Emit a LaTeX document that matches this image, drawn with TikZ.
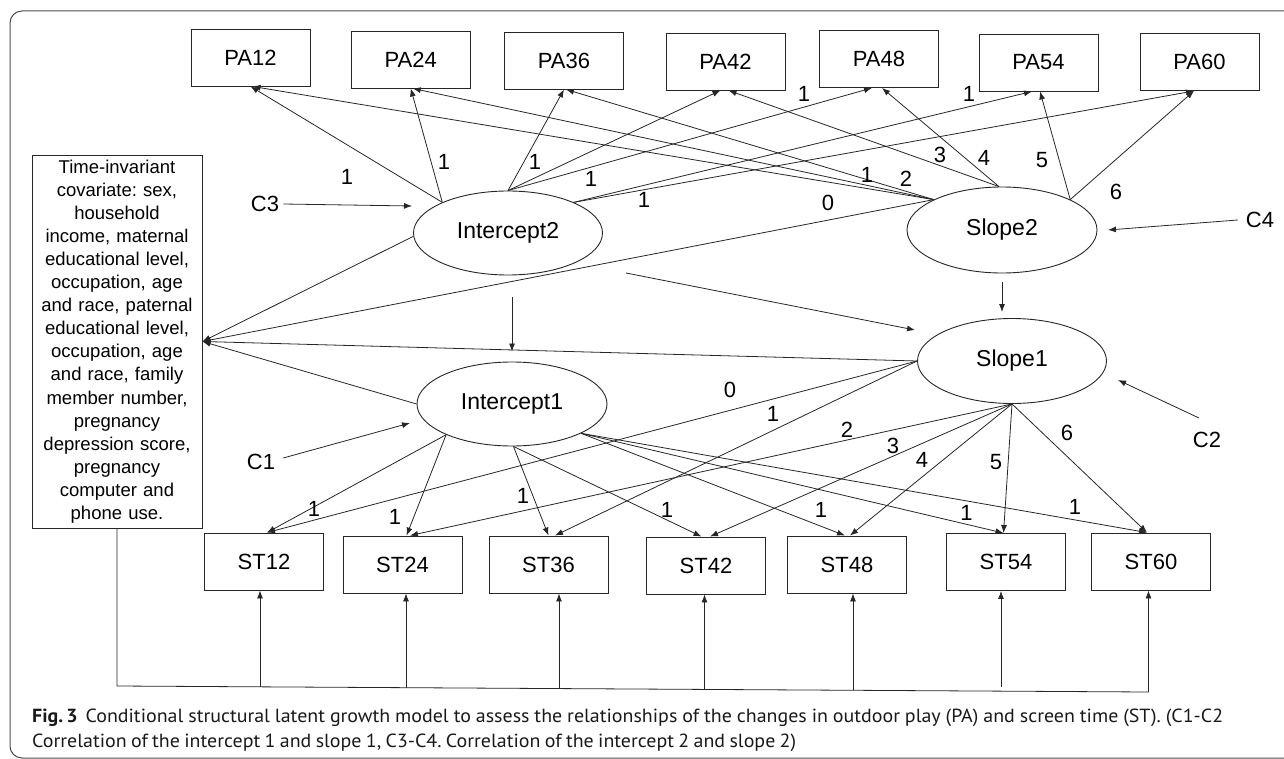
\documentclass[tikz,border=0pt]{standalone}
\usepackage{fontspec}
\setmainfont{Liberation Sans}
\newfontfamily\capfont[FakeStretch=1.05]{PT Sans}
\usetikzlibrary{arrows.meta,shapes.geometric,calc}
\frenchspacing
\begin{document}
\begin{tikzpicture}[x=1pt,y=-1pt,
  box/.style={draw=black!85, line width=0.9pt, minimum width=119pt, minimum height=57pt, inner sep=0pt, font=\fontsize{22}{26}\selectfont},
  lat/.style={draw=black!85, ellipse, line width=0.9pt, minimum width=189pt, minimum height=84pt, inner sep=0pt, font=\fontsize{23}{27}\selectfont},
  lab/.style={inner sep=0pt, font=\fontsize{22}{26}\selectfont},
  arr/.style={draw=black!85, line width=0.8pt, -{Latex[length=8pt,width=6pt]}},
  ln/.style={draw=black!85, line width=0.8pt},
  covbox/.style={draw=black!85, line width=0.9pt, minimum width=170pt, minimum height=373pt, text width=168pt, align=center, inner sep=0pt, font=\fontsize{18.5}{23.1}\selectfont},
  captext/.style={inner sep=0pt, anchor=base west, font=\capfont\fontsize{19}{23}\selectfont, text=black!90}
]
\useasboundingbox (0,0) rectangle (1284,759);
\draw[black!70, line width=1pt, rounded corners=12pt] (1300,11) -- (10,11) -- (10,758) -- (1300,758);

% PA boxes
\node[box] (pa12) at (250.5,57.5) {PA12};
\node[box] (pa24) at (410.75,59.5) {PA24};
\node[box] (pa36) at (564,60.5) {PA36};
\node[box] (pa42) at (725.5,61.5) {PA42};
\node[box] (pa48) at (879,59) {PA48};
\node[box] (pa54) at (1038.5,62.5) {PA54};
\node[box] (pa60) at (1199.5,62) {PA60};

% ST boxes
\node[box] (st12) at (264,561.5) {ST12};
\node[box] (st24) at (402.5,564.5) {ST24};
\node[box] (st36) at (548.5,564.5) {ST36};
\node[box] (st42) at (706,565.5) {ST42};
\node[box] (st48) at (847,564.5) {ST48};
\node[box] (st54) at (1006,562) {ST54};
\node[box] (st60) at (1151,561.5) {ST60};

% covariate box
\node[covbox] (cov) at (117,341.5) {Time-invariant\\covariate: sex,\\household\\income, maternal\\educational level,\\occupation, age\\and race, paternal\\educational level,\\occupation, age\\and race, family\\member number,\\pregnancy\\depression score,\\pregnancy\\computer and\\phone use.};

% latent variables
\node[lat] (i2) at (508,233) {Intercept2};
\node[lat, minimum width=190pt, minimum height=86pt] (s2) at (1002,230) {Slope2};
\node[lat, minimum width=190pt] (i1) at (512,404) {Intercept1};
\node[lat, minimum height=85pt] (s1) at (1012,361) {Slope1};

% correlation labels
\node[lab] (c3) at (265,204) {C3};
\node[lab] (c4) at (1260,220) {C4};
\node[lab] (c1) at (261,462) {C1};
\node[lab] (c2) at (1207,440) {C2};
\coordinate (c3e) at (412,206);
\coordinate (c4e) at (1108,230);
\coordinate (c1e) at (410,423);
\coordinate (c2e) at (1118,380);
\draw[arr] ([xshift=4pt]c3.east) -- (c3e);
\draw[arr] ([xshift=-8pt]c4.west) -- (c4e);
\draw[arr] ([xshift=8pt,yshift=4pt]c1.east) -- (c1e);
\draw[arr] ($(c2)+(-8,-22)$) -- (c2e);

% Intercept2 -> PA
\draw[arr] (i2.155) -- (pa12.south);
\draw[arr] (i2.155) -- (pa24.south);
\draw[arr] (i2.90) -- (pa36.south);
\draw[arr] (i2.90) -- ([xshift=-5pt]pa42.south);
\draw[arr] (i2.90) -- ([xshift=-7pt]pa48.south);
\draw[arr] (i2.25) -- ([xshift=-6.5pt]pa54.south);
\draw[arr] (i2.25) -- ([xshift=-5.5pt]pa60.south);

% Slope2 -> PA
\draw[arr] (s2.156) -- ([xshift=2pt]pa12.south);
\draw[arr] (s2.156) -- ([xshift=2pt]pa24.south);
\draw[arr] (s2.156) -- ([xshift=2pt]pa36.south);
\draw[arr] (s2.94) -- ([xshift=3pt]pa42.south);
\draw[arr] (s2.94) -- ([xshift=3pt]pa48.south);
\draw[arr] (s2.24) -- ([xshift=1.5pt]pa54.south);
\draw[arr] (s2.24) -- ([xshift=-5.5pt]pa60.south);

% labels on PA paths
\node[lab] (la1) at (347,177) {1};
\node[lab] (la2) at (444,162) {1};
\node[lab] (la3) at (535,162) {1};
\node[lab] (la4) at (591,179) {1};
\node[lab] (la5) at (644,200) {1};
\node[lab] (la6) at (804,94) {1};
\node[lab] (la7) at (969,94) {1};
\node[lab] (lb0) at (828,203) {0};
\node[lab] (lb1) at (867,175) {1};
\node[lab] (lb2) at (906,179) {2};
\node[lab] (lb3) at (940,155) {3};
\node[lab] (lb4) at (984,158) {4};
\node[lab] (lb5) at (1042,160) {5};
\node[lab] (lb6) at (1116,192) {6};

% paths to covariate box
\draw[arr] (i2.182) -- (cov.east);
\draw[arr] (s2.156) -- (cov.east);
\draw[arr] (s1.west) -- (cov.east);
\draw[arr] (i1.west) -- (cov.east);

% latent to latent
\draw[arr] ([yshift=-22pt]i1.north |- i2.south) -- ([yshift=10pt]i1.north);
\draw[arr] ([yshift=-9pt]s2.south) -- ([yshift=6pt]s2.south |- s1.north);
\coordinate (i2s1a) at (626,273);
\coordinate (i2s1b) at (915,330);
\draw[arr] (i2s1a) -- (i2s1b);

% Intercept1 -> ST
\draw[arr] (i1.205) -- ([xshift=3pt]st12.north);
\draw[arr] (i1.205) -- ([xshift=4pt]st24.north);
\draw[arr] (i1.272) -- (st36.north);
\draw[arr] (i1.272) -- ([xshift=-4.5pt]st42.north);
\draw[arr] (i1.337) -- ([xshift=-2pt]st48.north);
\draw[arr] (i1.337) -- ([xshift=-2.5pt]st54.north);
\draw[arr] (i1.337) -- ([xshift=-4pt]st60.north);

% Slope1 -> ST
\draw[arr] (s1.west) -- ([xshift=3pt]st12.north);
\draw[arr] (s1.west) -- ([xshift=6.5pt]st36.north);
\draw[arr] (s1.south) -- ([xshift=7.5pt]st24.north);
\draw[arr] (s1.south) -- ([xshift=4pt]st42.north);
\draw[arr] (s1.south) -- ([xshift=3pt]st48.north);
\draw[arr] (s1.south) -- ([xshift=-2.5pt]st54.north);
\draw[arr] (s1.south) -- ([xshift=-4pt]st60.north);

% labels on ST paths
\node[lab] (lc1) at (314,509) {1};
\node[lab] (lc2) at (395,517) {1};
\node[lab] (lc3) at (523,496) {1};
\node[lab] (lc4) at (667,510) {1};
\node[lab] (lc5) at (821,510) {1};
\node[lab] (lc6) at (966.5,513) {1};
\node[lab] (lc7) at (1075,507) {1};
\node[lab] (ld0) at (730,390) {0};
\node[lab] (ld1) at (773,414) {1};
\node[lab] (ld2) at (847,430) {2};
\node[lab] (ld3) at (893,446) {3};
\node[lab] (ld4) at (922,460) {4};
\node[lab] (ld5) at (996,462) {5};
\node[lab] (ld6) at (1067,433) {6};

% bottom covariate line
\coordinate (bl) at (117,686);
\coordinate (br) at (1148.5,692);
\draw[ln] (cov.south) -- (bl) -- (br);
\coordinate (b1) at (260,686.8);
\coordinate (b2) at (406,687.7);
\coordinate (b3) at (559,688.6);
\coordinate (b4) at (704.5,689.4);
\coordinate (b5) at (853,690.3);
\coordinate (b6) at (1001,687);
\draw[arr] (b1) -- (b1 |- st12.south);
\draw[arr] (b2) -- (b2 |- st24.south);
\draw[arr] (b3) -- (b3 |- st36.south);
\draw[arr] (b4) -- (b4 |- st42.south);
\draw[arr] (b5) -- (b5 |- st48.south);
\draw[arr] (b6) -- (b6 |- st54.south);
\draw[arr] (br) -- (br |- st60.south);

% caption
\node[captext] (cap1) at (32,722) {\hbox to 1191pt{{\bfseries Fig.\kern3pt3}\hspace{8pt}Conditional structural latent growth model to assess the relationships of the changes in outdoor play (PA) and screen time (ST). (C1-C2}};
\node[captext] (cap2) at (32,747.5) {\hbox to 764pt{Correlation of the intercept 1 and slope 1, C3-C4. Correlation of the intercept 2 and slope 2)}};
\end{tikzpicture}
\end{document}
